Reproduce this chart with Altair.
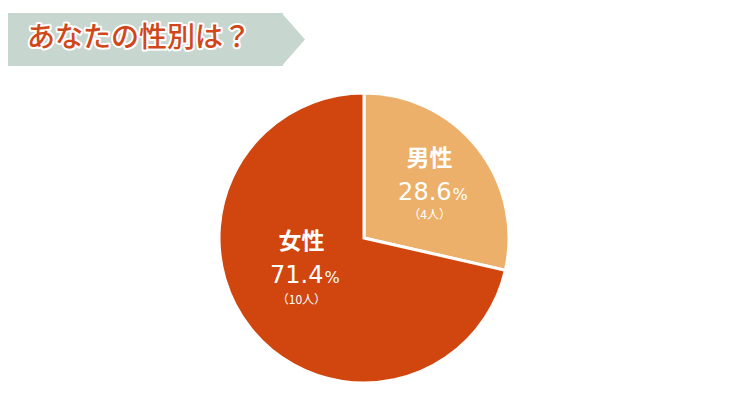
import altair as alt
import pandas as pd

# ---- data ----
genders = ["男性", "女性"]
counts = [4, 10]
slice_colors = ["#ecb06a", "#d1450f"]
title_text = "あなたの性別は？"

total = sum(counts)
percents = [f"{c / total * 100:.1f}" for c in counts]
count_labels = [f"（{c}人）" for c in counts]

df = pd.DataFrame({"性別": genders, "人数": counts, "割合": percents, "人数表示": count_labels})

CX, CY, R = 356, 230, 145
LABEL_R = 80
JP = "Noto Sans CJK JP"
NUM = "DejaVu Sans"

theta = alt.Theta("人数:Q", stack=True)
order = alt.Order("人数:Q", sort="ascending")
color = alt.Color("性別:N", scale=alt.Scale(domain=genders, range=slice_colors), legend=None)

pie = alt.Chart(df).mark_arc(outerRadius=R, stroke="white", strokeWidth=3).encode(
    theta=theta, order=order, color=color, x=alt.value(CX), y=alt.value(CY)
)


def label(gender, field, dx, dy, size, font, weight="normal", align="center"):
    return alt.Chart(df).mark_text(
        radius=LABEL_R, dx=dx, dy=dy, fontSize=size, font=font, fontWeight=weight,
        color="white", align=align, baseline="middle"
    ).encode(
        theta=theta, order=order, x=alt.value(CX), y=alt.value(CY),
        text=alt.condition(f"datum['性別'] === '{gender}'", alt.Text(f"{field}:N"), alt.value("")),
    )


def pct_sign(gender, dx, dy):
    return alt.Chart(df).mark_text(
        radius=LABEL_R, dx=dx, dy=dy, fontSize=16, font=NUM, color="white",
        align="left", baseline="middle"
    ).encode(
        theta=theta, order=order, x=alt.value(CX), y=alt.value(CY),
        text=alt.condition(f"datum['性別'] === '{gender}'", alt.value("%"), alt.value("")),
    )


labels = [
    # male
    label("男性", "性別", 3, -29, 23, JP, "bold"),
    label("男性", "割合", 25, 5, 24, NUM, align="right"),
    pct_sign("男性", 26, 7),
    label("男性", "人数表示", 3, 27, 12, JP),
    # female
    label("女性", "性別", 0, -46, 23, JP, "bold"),
    label("女性", "割合", 22, -12, 24, NUM, align="right"),
    pct_sign("女性", 23, -10),
    label("女性", "人数表示", 0, 12, 12, JP),
]

one = alt.Data(values=[{}])
banner_color = "#c8d6d0"
banner = alt.Chart(one).mark_rect(color=banner_color).encode(
    x=alt.value(0), x2=alt.value(275), y=alt.value(5), y2=alt.value(58)
)
arrow = alt.Chart(one).mark_point(
    shape="M-0.05,-1L0.83,0L-0.05,1Z", size=2809, filled=True, color=banner_color,
    opacity=1, strokeWidth=0
).encode(x=alt.value(275), y=alt.value(31.5))
title_outline = alt.Chart(one).mark_text(
    text=title_text, font=JP, fontSize=28, fontWeight=500, align="left", baseline="middle",
    color="white", stroke="white", strokeWidth=4, strokeJoin="round"
).encode(x=alt.value(19), y=alt.value(31))
title = alt.Chart(one).mark_text(
    text=title_text, font=JP, fontSize=28, fontWeight=500, align="left", baseline="middle",
    color="#d0481a"
).encode(x=alt.value(19), y=alt.value(31))

chart = alt.layer(banner, arrow, title_outline, title, pie, *labels).properties(
    width=713, height=394, padding=0, autosize=alt.AutoSizeParams(type="none")
).configure_view(stroke=None)

chart.save("out.html", embed_options={"renderer": "svg", "actions": False})
